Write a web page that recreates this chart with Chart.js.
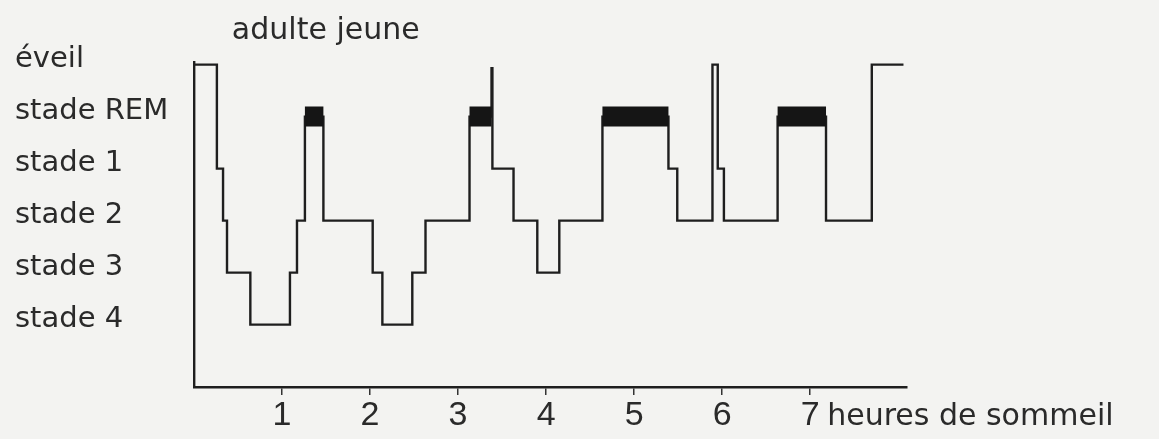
<!DOCTYPE html>
<html>
<head>
<meta charset="utf-8">
<script src="https://cdn.jsdelivr.net/npm/chart.js@4/dist/chart.umd.min.js"></script>
<style>
  body { margin: 0; background: #f3f3f1; }
  #wrap { width: 1159px; height: 439px; }
</style>
</head>
<body>
<div id="wrap"><canvas id="hypno"></canvas></div>
<script>
// niveaux: 0 = stade 4 ... 4 = REM, 5 = éveil
const stageLabels = ["stade 4", "stade 3", "stade 2", "stade 1", "stade REM", "éveil"];
const hourTicks = [1, 2, 3, 4, 5, 6, 7];

// début de chaque palier (heures) et niveau tenu jusqu'au palier suivant
const startHours = [0, 0.26, 0.33, 0.375, 0.64, 1.09, 1.17, 1.26, 1.47, 2.03, 2.14, 2.48, 2.63,
                    3.13, 3.38, 3.39, 3.63, 3.90, 4.15, 4.64, 5.39, 5.49, 5.89, 5.95, 6.02,
                    6.63, 7.18, 7.70, 8.06];
const stageLevels = [5, 3, 2, 1, 0, 1, 2, 4, 2, 1, 0, 1, 2,
                     4, 4.93, 3, 2, 1, 2, 4, 3, 2, 5, 3, 2,
                     4, 2, 5, 5];

// périodes de sommeil paradoxal (barres noires)
const remStart = [1.26, 3.13, 4.64, 6.63];
const remEnd = [1.47, 3.38, 5.39, 7.18];

const stepData = startHours.map((h, i) => ({ x: h, y: stageLevels[i] }));
const remData = [];
for (let i = 0; i < remStart.length; i++) {
  remData.push({ x: remStart[i], y: 4 });
  remData.push({ x: remEnd[i], y: 4 });
  remData.push({ x: remEnd[i], y: null });
}

const textPlugin = {
  id: "textes",
  afterDraw(chart) {
    const ctx = chart.ctx;
    const xs = chart.scales.x;
    ctx.save();
    ctx.fillStyle = "#2a2a2a";
    ctx.textBaseline = "middle";
    ctx.textAlign = "left";
    ctx.font = "30px 'DejaVu Sans'";
    ctx.fillText("adulte jeune", xs.getPixelForValue(0.43), 31);
    ctx.fillText("heures de sommeil", xs.getPixelForValue(7) + 17, 417);
    ctx.restore();
  }
};

new Chart(document.getElementById("hypno"), {
  type: "line",
  data: {
    datasets: [
      {
        data: stepData,
        stepped: true,
        order: 2,
        borderColor: "#1e1e1e",
        borderWidth: 2.4,
        pointRadius: 0,
        fill: false
      },
      {
        data: remData,
        order: 1,
        borderColor: "#151515",
        borderWidth: 20,
        borderCapStyle: "butt",
        pointRadius: 0,
        spanGaps: false,
        fill: false
      }
    ]
  },
  options: {
    responsive: true,
    maintainAspectRatio: false,
    animation: false,
    layout: { padding: { left: 15, top: 62, right: 252, bottom: 0 } },
    plugins: {
      legend: { display: false },
      tooltip: { enabled: false }
    },
    scales: {
      x: {
        type: "linear",
        min: 0,
        max: 8.1,
        afterBuildTicks: s => { s.ticks = hourTicks.map(v => ({ value: v })); },
        afterFit: s => { s.height = 52; },
        grid: { display: true, drawOnChartArea: false, drawTicks: true, tickLength: 8, color: "#333", lineWidth: 1.5 },
        border: { display: true, color: "#1e1e1e", width: 2.4 },
        ticks: {
          color: "#2a2a2a",
          padding: 0,
          maxRotation: 0,
          font: { family: "Liberation Sans", size: 34 }
        }
      },
      y: {
        type: "linear",
        min: -1.2,
        max: 5.05,
        afterBuildTicks: s => { s.ticks = stageLabels.map((l, i) => ({ value: i + 0.1 })); },
        afterFit: s => { s.width = 179; },
        grid: { display: false },
        border: { display: true, color: "#1e1e1e", width: 2.4 },
        ticks: {
          color: "#2a2a2a",
          crossAlign: "far",
          callback: (v, i) => stageLabels[i],
          font: { family: "DejaVu Sans", size: 29 }
        }
      }
    }
  },
  plugins: [textPlugin]
});
</script>
</body>
</html>
